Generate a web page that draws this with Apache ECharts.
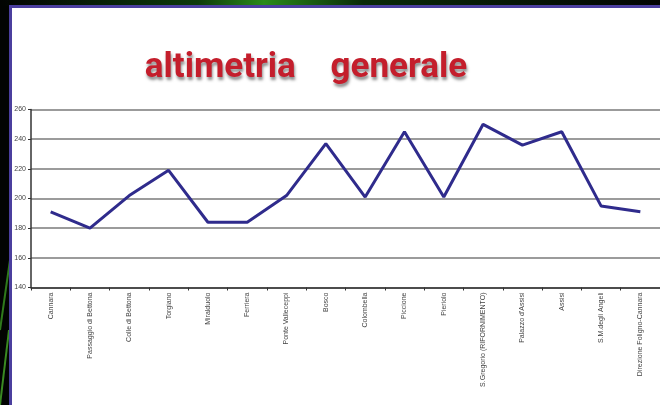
<!DOCTYPE html>
<html>
<head>
<meta charset="utf-8">
<script src="https://cdn.jsdelivr.net/npm/echarts@6/dist/echarts.min.js"></script>
<style>
html,body{margin:0;padding:0;background:#000;}
#c{width:660px;height:405px;}
</style>
</head>
<body>
<div id="c"></div>
<script>
const categories = ["Cannara","Passaggio di Bettona","Colle di Bettona","Torgiano","Miralduolo","Ferriera","Ponte Valleceppi","Bosco","Colombella","Piccione","Pieriolo","S.Gregorio (RIFORNIMENTO)","Palazzo d'Assisi","Assisi","S.M.degli Angeli","Direzione Foligno-Cannara"];
const altitudes = [191,180,202,219,184,184,202,237,201,245,201,250,236,245,195,191];
const yTicks = {min:140, max:260, step:20};
const titleText = "altimetria    generale";

const chart = echarts.init(document.getElementById('c'));
chart.setOption({
  backgroundColor: '#020402',
  animation: false,
  graphic: [
    {type:'line', shape:{x1:0,y1:330,x2:10,y2:260}, style:{stroke:'#2f7a1c', lineWidth:2}, z:-2},
    {type:'line', shape:{x1:0,y1:405,x2:9,y2:330}, style:{stroke:'#3a8a22', lineWidth:2}, z:-2},
    {type:'rect', shape:{x:0,y:0,width:660,height:6}, style:{fill:{type:'linear',x:0,y:0,x2:1,y2:0,colorStops:[{offset:0,color:'#020402'},{offset:0.3,color:'#0d3a0a'},{offset:0.4,color:'#2a8a1a'},{offset:0.55,color:'#0a2a08'},{offset:1,color:'#020402'}]}}, z:-2},
    {type:'rect', shape:{x:10.5,y:6.5,width:660,height:410}, style:{fill:'#ffffff', stroke:'#4b3f9e', lineWidth:3}, z:-1},
    {type:'text', x:306, y:68, style:{text:titleText, align:'center', verticalAlign:'middle', fontFamily:'Roboto', fontWeight:'bold', fontSize:35, fill:'#c41e2c', textShadowColor:'rgba(0,0,0,0.45)', textShadowBlur:3, textShadowOffsetX:1, textShadowOffsetY:3}, z:10}
  ],
  grid: {left:31, right:-11, top:109.5, bottom:117.5, containLabel:false},
  xAxis: {
    type:'category', data:categories, boundaryGap:true,
    axisLine:{lineStyle:{color:'#333', width:1.5}},
    axisTick:{show:true, length:3, lineStyle:{color:'#333'}},
    axisLabel:{rotate:90, fontSize:7, fontFamily:'Liberation Sans', color:'#444', margin:5, interval:0}
  },
  yAxis: {
    type:'value', min:yTicks.min, max:yTicks.max, interval:yTicks.step,
    axisLine:{show:true, lineStyle:{color:'#333', width:1.5}},
    axisTick:{show:true, length:3, lineStyle:{color:'#333'}},
    axisLabel:{fontSize:7, fontFamily:'Liberation Sans', color:'#444', margin:5},
    splitLine:{lineStyle:{color:'#7a7a7a', width:1.5}}
  },
  series: [{
    type:'line', data:altitudes, symbol:'none',
    lineStyle:{color:'#2f2b8c', width:3}
  }]
});
</script>
</body>
</html>
